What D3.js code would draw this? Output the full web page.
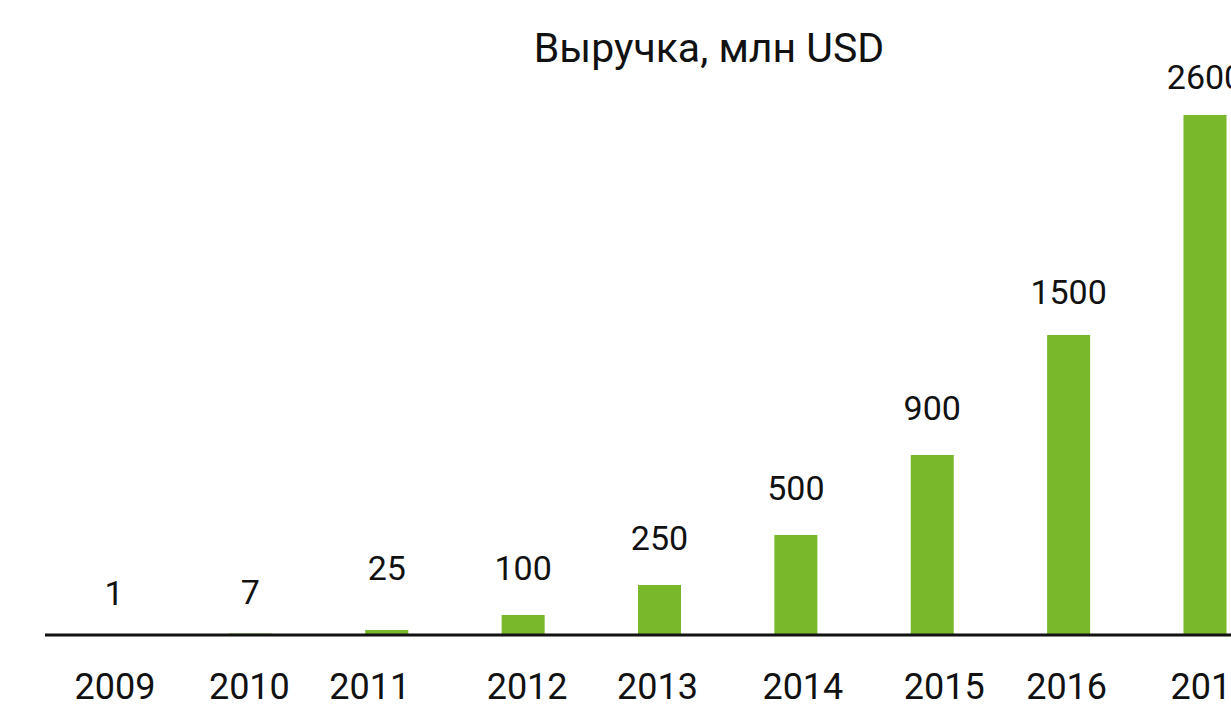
<!DOCTYPE html>
<html>
<head>
<meta charset="utf-8">
<script src="https://cdn.jsdelivr.net/npm/d3@7/dist/d3.min.js"></script>
<style>
  html, body { margin: 0; padding: 0; background: #fff; overflow: hidden; }
  svg { display: block; }
  text { font-family: Roboto, "Noto Sans", sans-serif; fill: #111; }
</style>
</head>
<body>
<svg id="chart" width="1231" height="704"></svg>
<script>
// Revenue by year, million USD
const years = ["2009", "2010", "2011", "2012", "2013", "2014", "2015", "2016", "2017"];
const revenue = [1, 7, 25, 100, 250, 500, 900, 1500, 2600];
const title = "Выручка, млн USD";

// Small hand-tuned label offsets (layout only)
const yearLabelNudge = [1, -1, -17, 4, -2, 7, 12, -2, 6];
const valueLabelNudge = [5, 5, -15, 0, 0, 0, 0, 4, 9];

const W = 1231, H = 704;
const baseY = 635;
const svg = d3.select("#chart");

const x = d3.scalePoint().domain(years).range([114, 1205]);
const y = d3.scaleLinear().domain([0, 2600]).range([baseY, 115]);
const barW = 43;
const green = "#78b82a";

// Title
svg.append("text")
  .attr("x", 709)
  .attr("y", 62)
  .attr("text-anchor", "middle")
  .style("font-size", "41px")
  .text(title);

// Bars
svg.append("g").selectAll("rect")
  .data(years)
  .join("rect")
  .attr("x", (d) => x(d) - barW / 2)
  .attr("y", (d, i) => y(revenue[i]))
  .attr("width", barW)
  .attr("height", (d, i) => baseY - y(revenue[i]))
  .attr("fill", green);

// Baseline axis
svg.append("line")
  .attr("x1", 45).attr("x2", W)
  .attr("y1", baseY).attr("y2", baseY)
  .attr("stroke", "#111")
  .attr("stroke-width", 3);

// Value labels
svg.append("g").selectAll("text")
  .data(years)
  .join("text")
  .attr("x", (d) => x(d))
  .attr("y", (d, i) => y(revenue[i]) - 47 + valueLabelNudge[i])
  .attr("text-anchor", "middle")
  .attr("dominant-baseline", "central")
  .style("font-size", "34px")
  .text((d, i) => revenue[i]);

// Year labels
svg.append("g").selectAll("text")
  .data(years)
  .join("text")
  .attr("x", (d, i) => x(d) + yearLabelNudge[i])
  .attr("y", 699)
  .attr("text-anchor", "middle")
  .style("font-size", "36px")
  .text((d) => d);
</script>
</body>
</html>
